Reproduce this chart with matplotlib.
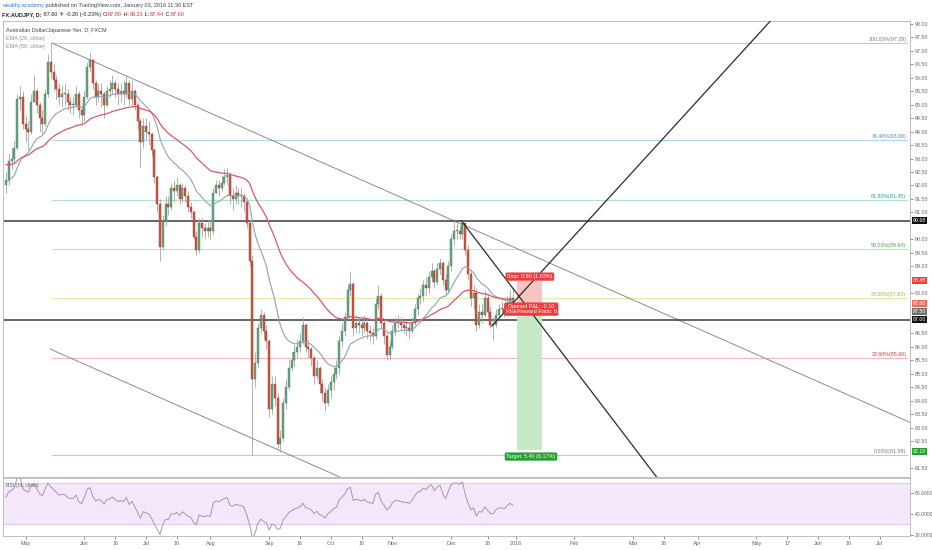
import numpy as np
import pandas as pd
import matplotlib
matplotlib.use("Agg")
import matplotlib.pyplot as plt
from matplotlib.patches import Rectangle
import matplotlib.transforms as mtransforms

plt.rcParams['font.family'] = ['Liberation Sans', 'DejaVu Sans']

# ---- daily AUDJPY bars (FXCM) ----
START = "2015-04-22"
FIRST_OPEN = 92.0

close_apr = [92.2, 92.9, 93.0, 93.4, 95.2, 95.3, 94.3]
high_apr = [92.5, 93.2, 93.4, 93.7, 95.4, 95.7, 95.5]
low_apr = [91.7, 92.0, 92.6, 92.8, 93.3, 94.8, 94.1]

close_may = [94.1, 94.0, 95.1, 95.5, 95.0, 94.5, 94.3, 95.4, 96.6, 96.2, 95.9,
             95.6, 95.3, 95.4, 95.4, 95.1, 95.0, 95.0, 95.4, 94.8, 94.6]
high_may = [94.6, 94.4, 95.4, 96.1, 95.6, 95.1, 94.8, 95.6, 96.9, 97.29, 96.5,
            96.1, 95.8, 95.7, 95.8, 95.6, 95.3, 95.3, 95.7, 95.5, 95.0]
low_may = [93.6, 93.3, 93.9, 95.1, 94.7, 94.0, 93.9, 94.2, 95.3, 96.0, 95.5,
           95.2, 95.0, 94.9, 95.0, 94.8, 94.7, 94.6, 94.9, 94.5, 94.3]

close_jun = [95.3, 96.4, 96.65, 95.8, 95.3, 95.5, 95.4, 95.0, 95.5, 95.6, 95.8,
             95.6, 95.4, 95.5, 95.4, 95.8, 95.2, 95.5, 95.0, 94.4, 93.6, 94.2]
high_jun = [95.5, 96.6, 96.95, 96.7, 95.9, 95.8, 95.8, 95.5, 95.7, 95.9, 96.1,
            95.9, 95.8, 95.8, 95.9, 96.1, 95.9, 95.9, 95.6, 95.1, 94.5, 94.5]
low_jun = [94.4, 95.2, 96.2, 95.6, 95.0, 95.1, 94.9, 94.5, 94.9, 95.3, 95.4,
           95.3, 95.0, 95.1, 95.0, 95.3, 95.0, 95.0, 94.8, 94.1, 92.7, 93.4]

close_jul = [94.0, 93.9, 93.3, 92.3, 91.3, 89.7, 90.7, 91.3, 91.2, 91.9, 91.8,
             92.0, 91.5, 91.9, 91.6, 91.2, 91.0, 90.1, 89.6, 90.6, 90.4, 90.3, 90.4]
high_jul = [94.5, 94.4, 94.0, 93.4, 92.4, 91.5, 90.9, 91.6, 91.6, 92.1, 92.2,
            92.3, 92.1, 92.1, 92.0, 91.8, 91.4, 91.1, 90.3, 90.8, 90.8, 90.6, 90.7]
low_jul = [93.7, 93.5, 93.1, 92.1, 91.0, 89.2, 89.6, 90.5, 90.9, 91.1, 91.4,
           91.6, 91.3, 91.4, 91.4, 91.0, 90.8, 90.0, 89.4, 89.5, 90.1, 90.0, 90.1]

close_aug = [90.3, 91.7, 92.0, 91.9, 92.1, 92.3, 92.4, 91.6, 91.5, 91.7, 91.6,
             91.6, 91.4, 90.6, 89.2, 84.8, 85.4, 86.7, 87.2, 86.6, 86.2]
high_aug = [90.7, 91.9, 92.2, 92.2, 92.4, 92.6, 92.7, 92.5, 91.9, 92.0, 91.9,
            91.9, 91.7, 91.5, 90.7, 89.4, 85.8, 86.9, 87.4, 87.3, 86.8]
low_aug = [90.0, 90.2, 91.7, 91.6, 91.8, 92.0, 92.0, 91.3, 91.1, 91.3, 91.3,
           91.2, 91.0, 90.4, 89.0, 81.99, 84.5, 85.2, 86.5, 86.3, 85.9]

close_sep = [83.7, 84.6, 84.1, 82.4, 82.6, 83.9, 84.5, 85.2, 85.5, 85.8, 86.0,
             86.2, 86.8, 86.0, 85.9, 85.6, 84.9, 85.2, 84.6, 84.3, 83.9, 84.4]
high_sep = [86.3, 84.9, 84.9, 84.3, 82.9, 84.1, 84.8, 85.5, 85.8, 86.1, 86.3,
            86.5, 87.1, 86.9, 86.3, 86.0, 85.7, 85.5, 85.3, 84.8, 84.5, 84.6]
low_sep = [83.4, 83.5, 83.8, 82.2, 82.1, 82.5, 83.7, 84.4, 85.1, 85.3, 85.6,
           85.8, 86.1, 85.8, 85.6, 85.3, 84.6, 84.8, 84.3, 84.0, 83.6, 83.8]

close_oct = [84.7, 85.0, 85.2, 86.2, 86.6, 87.1, 88.1, 88.35, 86.7, 86.9, 86.8,
             86.7, 86.9, 86.6, 86.5, 86.4, 87.6, 87.9, 86.9, 86.4, 85.7, 86.0]
high_oct = [84.9, 85.3, 85.5, 86.4, 86.9, 87.3, 88.3, 88.8, 88.4, 87.2, 87.1,
            87.0, 87.2, 87.1, 86.8, 86.7, 87.8, 88.3, 88.0, 87.0, 86.5, 86.2]
low_oct = [84.1, 84.4, 84.8, 85.0, 86.0, 86.4, 87.0, 87.9, 86.4, 86.5, 86.5,
           86.4, 86.5, 86.3, 86.2, 86.1, 86.3, 87.4, 86.7, 86.1, 85.5, 85.5]

close_nov = [86.6, 86.9, 86.9, 86.8, 86.7, 86.7, 86.6, 86.9, 87.4, 87.8, 87.9,
             88.3, 88.2, 88.6, 88.8, 88.4, 88.9, 89.1, 88.5, 88.1, 89.0]
high_nov = [86.8, 87.1, 87.2, 87.1, 87.0, 87.0, 86.9, 87.1, 87.6, 88.0, 88.2,
            88.5, 88.6, 88.8, 89.1, 88.9, 89.1, 89.3, 89.2, 88.7, 89.2]
low_nov = [85.9, 86.4, 86.7, 86.6, 86.5, 86.4, 86.3, 86.5, 86.8, 87.2, 87.6,
           87.7, 87.9, 88.0, 88.4, 88.2, 88.3, 88.7, 88.3, 87.9, 88.0]

close_dec = [90.0, 90.3, 90.3, 90.2, 90.6, 89.6, 88.7, 87.8, 88.0, 86.8, 87.3,
             87.2, 87.8, 87.3, 86.8, 86.8, 87.2, 87.4, 87.4, 87.3, 87.6, 87.8, 87.6]
high_dec = [90.2, 90.7, 90.6, 90.5, 90.67, 90.6, 89.8, 88.9, 88.3, 88.2, 87.6,
            87.6, 88.1, 88.0, 87.5, 87.1, 87.4, 87.6, 87.7, 87.6, 87.9, 88.1, 88.21]
low_dec = [88.8, 89.8, 90.0, 90.0, 90.0, 89.4, 88.5, 87.5, 87.4, 86.6, 86.7,
           86.9, 87.1, 87.1, 86.7, 86.25, 86.7, 87.1, 87.2, 87.1, 87.2, 87.5, 87.44]

EMA20_SEED = 92.1
EMA50_SEED = 92.8
RSI_LEN = 14
RSI_SEED = (0.20, 0.17)  # avg gain / avg loss before first bar

# drawings
fib_levels = [0.0, 0.236, 0.382, 0.5, 0.618, 0.764, 1.0]
fib_prices = [81.99, 85.60, 87.83, 89.64, 91.45, 93.68, 97.29]
fib_text_col = ['#7a7a7a', '#d33b3b', '#9cb43c', '#43a843', '#2aa58c', '#3a8fc4', '#7a7a7a']
fib_line_col = ['#c8c8c8', '#f3b9b9', '#e2ecaa', '#bfe6b4', '#b2e0d2', '#aed6ea', '#c8c8c8']

hlines = [90.68, 87.00]
entry, stop, target = 87.55, 88.45, 82.15

tick_dates = ["2015-05-01", "2015-06-01", "2015-06-16", "2015-07-01", "2015-07-16",
              "2015-08-03", "2015-09-01", "2015-09-16", "2015-10-01", "2015-10-16",
              "2015-11-02", "2015-12-01", "2015-12-18", "2016-01-01", "2016-02-01",
              "2016-03-01", "2016-03-16", "2016-04-01", "2016-05-02", "2016-05-17",
              "2016-06-01", "2016-06-16", "2016-07-01"]
tick_labels = ["May", "Jun", "16", "Jul", "16", "Aug", "Sep", "16", "Oct", "16",
               "Nov", "Dec", "18", "2016", "Feb", "Mar", "16", "Apr", "May", "17",
               "Jun", "16", "Jul"]

# price-scale values hidden behind the coloured price boxes
hidden_ticks = [90.5, 88.5, 87.5, 87.0, 82.0]

closes = np.array(close_apr + close_may + close_jun + close_jul + close_aug +
                  close_sep + close_oct + close_nov + close_dec)
highs = np.array(high_apr + high_may + high_jun + high_jul + high_aug +
                 high_sep + high_oct + high_nov + high_dec)
lows = np.array(low_apr + low_may + low_jun + low_jul + low_aug +
                low_sep + low_oct + low_nov + low_dec)
opens = np.r_[FIRST_OPEN, closes[:-1]]
highs = np.maximum(highs, np.maximum(opens, closes))
lows = np.minimum(lows, np.minimum(opens, closes))
n = len(closes)
idx = np.arange(n)
dates = pd.bdate_range(START, periods=340)


def ema(values, span, seed):
    a = 2.0 / (span + 1)
    out, e = [], seed
    for v in values:
        e = e + a * (v - e)
        out.append(e)
    return np.array(out)


def rsi(values, length, seed):
    g, l = seed
    out = []
    prev = FIRST_OPEN
    for v in values:
        d = v - prev
        prev = v
        g = (g * (length - 1) + max(d, 0)) / length
        l = (l * (length - 1) + max(-d, 0)) / length
        out.append(100 - 100 / (1 + g / l))
    return np.array(out)


W, H = 932, 550
fig = plt.figure(figsize=(W / 100, H / 100), dpi=100)
fig.patch.set_facecolor('white')

L_PX, R_PX = 3, 910
ax = fig.add_axes([L_PX / W, 1 - 477 / H, (R_PX - L_PX) / W, (477 - 21) / H])
ax_r = fig.add_axes([L_PX / W, 1 - 536 / H, (R_PX - L_PX) / W, (536 - 478) / H], sharex=ax)

BAR_PX = 2.8
x_left = (L_PX - 6) / BAR_PX
x_right = (R_PX - 6) / BAR_PX
ax.set_xlim(x_left, x_right)
ax.set_ylim(98.0 - (477 - 24) / 26.9, 98.0 + 3 / 26.9)

# candles
UP, DN = '#6ba583', '#d75442'
ax.vlines(idx, lows, highs, color='#a5a5a5', lw=0.6, zorder=3)
for i in range(n):
    o, c = opens[i], closes[i]
    col = UP if c >= o else DN
    ec = '#3f7a57' if c >= o else '#9a3426'
    ax.add_patch(Rectangle((i - 0.37, min(o, c)), 0.74, max(abs(c - o), 0.03),
                           fc=col, ec=ec, lw=0.3, zorder=4))

ax.plot(idx, ema(closes, 20, EMA20_SEED), color='#8ea3b5', lw=0.8, zorder=5)
ax.plot(idx, ema(closes, 50, EMA50_SEED), color='#e0566a', lw=0.9, zorder=5)

# fibonacci retracement
fx0, fx1 = 16.4, (907 - 6) / BAR_PX
for lev, p, tc, lc in zip(fib_levels, fib_prices, fib_text_col, fib_line_col):
    ax.plot([fx0, fx1], [p, p], color=lc, lw=0.8, zorder=1)
    ax.text(fx1 - 0.3, p + 0.03, f"{lev * 100:.2f}%({p:.2f})", color=tc,
            fontsize=3.8, ha='right', va='bottom', zorder=6)

# channel lines
slope = -0.046
ax.plot([16.4, x_right + 2], [97.29, 97.29 + slope * (x_right + 2 - 16.4)],
        color='#8c8c8c', lw=0.7, zorder=2)
ax.plot([15.7, 140], [85.92, 85.92 + slope * (140 - 15.7)],
        color='#8c8c8c', lw=0.7, zorder=2)

# horizontal levels
for p in hlines:
    ax.axhline(p, color='#3a3a3a', lw=1.1, zorder=2)

# wedge lines
ax.plot([162.7, 250], [90.68, 90.68 - 0.1367 * (250 - 162.7)], color='#2b2b2b', lw=0.9, zorder=6)
ax.plot([173.5, 290], [86.77, 86.77 + 0.114 * (290 - 173.5)], color='#2b2b2b', lw=0.9, zorder=6)

# short position tool
bx0, bx1 = 182.5, 191.4
ax.add_patch(Rectangle((bx0, entry), bx1 - bx0, stop - entry, fc='#f7c4c4', ec='none', zorder=2))
ax.add_patch(Rectangle((bx0, target), bx1 - bx0, entry - target, fc='#c6e8c6', ec='none', zorder=2))
lab = dict(fontsize=3.9, color='white', ha='center', va='center', zorder=8)
ax.text(187.1, 88.61, "Stop: 0.90 (1.03%)",
        bbox=dict(boxstyle='round,pad=0.3', fc='#ee3b3b', ec='none'), **lab)
ax.text(187.6, 87.40, "Opened P&L: -0.10\nRisk/Reward Ratio: 6", linespacing=1.0,
        bbox=dict(boxstyle='round,pad=0.3', fc='#ee3b3b', ec='none'), **lab)
ax.text(187.5, 81.92, "Target: 5.40 (6.17%)",
        bbox=dict(boxstyle='round,pad=0.3', fc='#23a02f', ec='none'), **lab)

# price scale
yt = [v for v in np.arange(81.5, 98.01, 0.5) if not any(abs(v - h) < 1e-6 for h in hidden_ticks)]
ax.yaxis.tick_right()
ax.set_yticks(yt)
ax.set_yticklabels([f"{v:.2f}" for v in yt])
ax.tick_params(axis='y', labelsize=3.8, colors='#666666', length=2, width=0.5, pad=1.5)
ax.tick_params(axis='x', bottom=False, labelbottom=False)
for s in ax.spines.values():
    s.set_color('#b5b5b5')
    s.set_linewidth(0.6)

trans = mtransforms.blended_transform_factory(ax.transAxes, ax.transData)
axis_labels = [("90.68", 90.68, '#111111'), ("88.45", 88.45, '#ee3b3b'),
               ("87.60", 87.62, '#ef6a5a'), ("87.50", 87.32, '#6f6f6f'),
               ("87.00", 87.00, '#111111'), ("82.10", 82.10, '#23a02f')]
for txt, p, col in axis_labels:
    ax.text(1.003, p, txt, transform=trans, fontsize=3.8, color='white', ha='left',
            va='center', clip_on=False, zorder=9,
            bbox=dict(boxstyle='square,pad=0.2', fc=col, ec='none'))

ax.text(0.003, 0.985, "Australian Dollar/Japanese Yen, D, FXCM", transform=ax.transAxes,
        fontsize=3.9, color='#444444', va='top', ha='left')
ax.text(0.003, 0.967, "EMA (20, close)", transform=ax.transAxes,
        fontsize=3.9, color='#8a8a8a', va='top', ha='left')
ax.text(0.003, 0.949, "EMA (50, close)", transform=ax.transAxes,
        fontsize=3.9, color='#8a8a8a', va='top', ha='left')

# RSI pane
ax_r.set_ylim(30 - (536 - 524.4) / 1.043, 70 + (482.7 - 478) / 1.043)
ax_r.axhspan(30, 70, color='#f4e6fb', zorder=0)
ax_r.axhline(70, color='#dcc8ea', lw=0.6)
ax_r.axhline(30, color='#dcc8ea', lw=0.6)
ax_r.plot(idx, rsi(closes, RSI_LEN, RSI_SEED), color='#a596b4', lw=0.7)
ax_r.text(0.003, 0.92, f"RSI ({RSI_LEN}, close)", transform=ax_r.transAxes,
          fontsize=3.5, color='#666666', va='top', ha='left')
ax_r.yaxis.tick_right()
ax_r.set_yticks([20, 40, 60])
ax_r.set_yticklabels(["20.0000", "40.0000", "60.0000"])
ax_r.tick_params(axis='y', labelsize=3.6, colors='#666666', length=2, width=0.5, pad=1.5)
tick_pos = dates.get_indexer(pd.to_datetime(tick_dates))
ax_r.set_xticks(tick_pos)
ax_r.set_xticklabels(tick_labels)
ax_r.tick_params(axis='x', labelsize=3.9, colors='#666666', length=2, width=0.5, pad=1.5)
for s in ax_r.spines.values():
    s.set_color('#b5b5b5')
    s.set_linewidth(0.6)


# header
def chain(parts, x, y):
    prev = None
    for txt, col, wt in parts:
        if prev is None:
            prev = fig.text(x, y, txt, color=col, fontsize=4.0, fontweight=wt,
                            ha='left', va='bottom')
        else:
            prev = ax.annotate(txt, xy=(1, 0), xycoords=prev, color=col, fontsize=4.0,
                               fontweight=wt, ha='left', va='bottom')


chain([("wealthy.academy", '#2a7fd4', 'normal'),
       (" published on TradingView.com, January 03, 2016 11:30 EST", '#444444', 'normal')],
      2 / W, 1 - 8 / H)
RED = '#d9342b'
chain([("FX:AUDJPY, D:", '#222222', 'bold'), (" 87.60 ", '#222222', 'normal'),
       ("\u25bc", RED, 'normal'), (" -0.20 (-0.23%) ", '#222222', 'normal'),
       ("O:", '#222222', 'normal'), ("87.80", RED, 'normal'),
       (" H:", '#222222', 'normal'), ("88.21", RED, 'normal'),
       (" L:", '#222222', 'normal'), ("87.44", RED, 'normal'),
       (" C:", '#222222', 'normal'), ("87.60", RED, 'normal')],
      2 / W, 1 - 17 / H)

fig.savefig("out.png", dpi=100)
